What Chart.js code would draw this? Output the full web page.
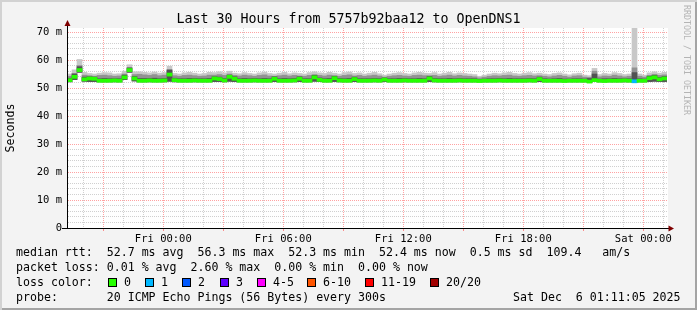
<!DOCTYPE html>
<html>
<head>
<meta charset="utf-8">
<script src="https://cdn.jsdelivr.net/npm/chart.js@4.4.1/dist/chart.umd.min.js"></script>
<style>
  body { margin: 0; background: #fff; }
  #marco {
    position: relative; width: 697px; height: 310px; overflow: hidden;
    background: #f3f3f3;
    box-shadow: inset 2px 2px 0 #d2d2d2, inset -2px -2px 0 #a4a4a4;
    font-family: 'DejaVu Sans Mono', monospace; color: #000;
  }
  #grafica { position: absolute; left: 0; top: 0; }
  #titulo { position: absolute; left: 0; top: 10px; width: 697px; text-align: center; font-size: 13.3px; line-height: 18px; white-space: pre; }
  #marca { position: absolute; left: 682px; top: 5px; writing-mode: vertical-rl; font-size: 8.3px; color: #b4b4b4; white-space: pre; }
  .fila { position: absolute; left: 16px; font-size: 11.6px; line-height: 15px; white-space: pre; }
  .caja { position: absolute; width: 7px; height: 7px; border: 1px solid #000; }
  .etq { position: absolute; font-size: 11.6px; line-height: 15px; white-space: pre; }
</style>
</head>
<body>
<div id="marco">
  <canvas id="grafica" width="697" height="310"></canvas>
  <div id="titulo">Last 30 Hours from 5757b92baa12 to OpenDNS1</div>
  <div id="marca">RRDTOOL / TOBI OETIKER</div>
  <div class="fila" style="top:245px">median rtt:  52.7 ms avg  56.3 ms max  52.3 ms min  52.4 ms now  0.5 ms sd  109.4   am/s</div>
  <div class="fila" style="top:260px">packet loss: 0.01 % avg  2.60 % max  0.00 % min  0.00 % now</div>
  <div class="fila" style="top:275px">loss color:</div>
  <div id="leyendaPerdida"></div>
  <div class="fila" style="top:290px">probe:       20 ICMP Echo Pings (56 Bytes) every 300s</div>
  <div class="etq" style="top:290px; left:513px">Sat Dec  6 01:11:05 2025</div>
</div>
<script>
// tiempo en horas respecto a Fri 00:00, cubetas de 15 minutos
const inicioHoras = -4.815;
const finHoras = 25.185;
const pasoHoras = 0.25;

// mediana del rtt (ms) por cubeta
const mediana = [
  52.8, 54.0, 56.4, 53.1, 53.4, 53.3, 52.6, 52.6, 52.6, 52.7,
  52.6, 53.8, 56.4, 53.4, 52.6, 52.6, 52.7, 52.6, 52.6, 52.7,
  54.8, 52.8, 52.6, 52.6, 52.6, 52.7, 52.6, 52.6, 52.6, 53.4,
  53.2, 52.7, 54.0, 53.3, 52.6, 52.6, 52.6, 52.7, 52.6, 52.6,
  52.6, 53.3, 52.6, 52.6, 52.6, 52.7, 53.3, 52.6, 52.6, 53.8,
  52.9, 52.6, 52.6, 53.5, 52.7, 52.6, 52.6, 53.2, 52.6, 52.6,
  52.6, 52.7, 52.6, 53.0, 52.6, 52.6, 52.6, 52.7, 52.6, 52.6,
  52.6, 52.6, 53.4, 52.7, 52.6, 52.6, 52.6, 52.6, 52.7, 52.6,
  52.6, 52.6, 52.5, 52.6, 52.6, 52.6, 52.7, 52.6, 52.6, 52.6,
  52.6, 52.6, 52.7, 52.6, 53.2, 52.6, 52.6, 52.6, 52.6, 52.5,
  52.6, 52.6, 52.6, 52.6, 52.3, 52.8, 52.6, 52.5, 52.6, 52.6,
  52.6, 52.7, 52.6, 52.4, 52.6, 52.6, 53.5, 53.8, 53.1, 53.4
];

// ping mas rapido de cada cubeta (base del humo)
const humoMin = [
  52.2, 53.0, 55.6, 52.4, 52.3, 52.3, 52.2, 52.2, 52.2, 52.2,
  52.2, 53.0, 55.6, 52.5, 52.2, 52.2, 52.2, 52.2, 52.2, 52.2,
  52.4, 52.2, 52.2, 52.2, 52.2, 52.2, 52.2, 52.2, 52.2, 52.3,
  52.3, 52.2, 52.4, 52.3, 52.2, 52.2, 52.2, 52.2, 52.2, 52.2,
  52.2, 52.3, 52.2, 52.2, 52.2, 52.2, 52.3, 52.2, 52.2, 52.4,
  52.3, 52.2, 52.2, 52.3, 52.2, 52.2, 52.2, 52.3, 52.2, 52.2,
  52.2, 52.2, 52.2, 52.3, 52.2, 52.2, 52.2, 52.2, 52.2, 52.2,
  52.2, 52.2, 52.3, 52.2, 52.2, 52.2, 52.2, 52.2, 52.2, 52.2,
  52.2, 52.2, 52.2, 52.2, 52.2, 52.2, 52.2, 52.2, 52.2, 52.2,
  52.2, 52.2, 52.2, 52.2, 52.3, 52.2, 52.2, 52.2, 52.2, 52.2,
  52.2, 52.2, 52.2, 52.2, 52.0, 52.3, 52.2, 52.2, 52.2, 52.2,
  52.2, 52.2, 52.2, 52.0, 52.2, 52.2, 52.3, 52.4, 52.3, 52.3
];

// limite de la franja oscura del humo
const humoOscuro = [
  53.5, 55.0, 57.6, 53.9, 54.0, 53.9, 53.3, 53.4, 53.3, 53.3,
  53.3, 54.6, 57.2, 54.1, 53.4, 53.4, 53.4, 53.5, 53.3, 53.4,
  56.4, 53.5, 53.3, 53.3, 53.4, 53.4, 53.3, 53.3, 53.4, 54.0,
  53.9, 53.4, 54.6, 54.0, 53.3, 53.4, 53.3, 53.4, 53.3, 53.4,
  53.3, 54.0, 53.3, 53.4, 53.3, 53.4, 54.0, 53.3, 53.3, 54.5,
  53.6, 53.3, 53.4, 54.2, 53.4, 53.3, 53.4, 53.9, 53.3, 53.3,
  53.3, 53.4, 53.3, 53.6, 53.3, 53.3, 53.4, 53.4, 53.3, 53.3,
  53.4, 53.3, 54.1, 53.4, 53.3, 53.3, 53.4, 53.3, 53.4, 53.3,
  53.3, 53.3, 53.1, 53.2, 53.3, 53.3, 53.4, 53.3, 53.4, 53.3,
  53.3, 53.3, 53.4, 53.3, 53.9, 53.3, 53.2, 53.3, 53.4, 53.2,
  53.2, 53.3, 53.3, 53.2, 53.4, 55.0, 53.2, 53.3, 53.3, 53.4,
  53.3, 53.3, 53.3, 55.5, 53.3, 53.2, 54.2, 54.5, 53.8, 54.1
];

// limite de la franja media del humo
const humoMedio = [
  54.2, 55.2, 58.0, 54.6, 54.4, 54.2, 54.5, 54.6, 54.4, 54.2,
  54.3, 55.0, 57.2, 54.8, 54.9, 54.7, 54.5, 54.8, 54.4, 54.6,
  56.6, 54.4, 54.2, 54.5, 54.6, 54.4, 54.2, 54.3, 54.6, 54.6,
  54.8, 54.5, 55.0, 54.5, 54.3, 54.6, 54.4, 54.2, 54.5, 54.7,
  54.3, 54.2, 54.4, 54.6, 54.3, 54.5, 54.3, 54.2, 54.5, 54.8,
  54.5, 54.3, 54.6, 54.4, 54.2, 54.5, 54.7, 54.3, 54.5, 54.2,
  54.4, 54.6, 54.3, 53.9, 54.2, 54.4, 54.5, 54.3, 54.2, 54.5,
  54.6, 54.4, 54.4, 54.5, 54.2, 54.4, 54.6, 54.3, 54.5, 54.3,
  54.2, 54.0, 53.6, 53.9, 54.2, 54.4, 54.3, 54.5, 54.6, 54.3,
  54.2, 54.4, 54.5, 54.3, 54.4, 54.2, 54.0, 54.3, 54.5, 54.2,
  53.9, 54.3, 54.4, 53.9, 53.8, 56.0, 54.0, 54.3, 54.2, 54.6,
  54.3, 54.0, 54.2, 57.2, 54.2, 53.9, 54.5, 54.9, 54.5, 54.7
];

// ping mas lento de cada cubeta (borde del humo claro)
const humoMax = [
  55.0, 56.5, 60.2, 55.6, 55.2, 55.0, 55.3, 55.5, 55.4, 55.0,
  55.1, 56.0, 58.3, 55.8, 55.8, 55.6, 55.4, 55.7, 55.3, 55.5,
  57.8, 55.2, 55.0, 55.4, 55.6, 55.3, 55.0, 55.2, 55.6, 55.5,
  55.8, 55.4, 56.0, 55.3, 55.1, 55.5, 55.2, 55.0, 55.4, 55.7,
  55.2, 55.0, 55.3, 55.6, 55.1, 55.4, 55.2, 55.0, 55.5, 55.8,
  55.4, 55.2, 55.6, 55.3, 55.0, 55.5, 55.7, 55.2, 55.4, 55.0,
  55.3, 55.6, 55.1, 54.6, 55.0, 55.3, 55.5, 55.2, 55.0, 55.4,
  55.6, 55.3, 55.2, 55.5, 55.0, 55.3, 55.6, 55.1, 55.4, 55.2,
  55.0, 54.8, 54.2, 54.6, 55.0, 55.3, 55.1, 55.4, 55.6, 55.2,
  55.0, 55.3, 55.5, 55.1, 55.3, 55.0, 54.8, 55.2, 55.4, 55.0,
  54.7, 55.1, 55.3, 54.6, 54.4, 57.0, 54.8, 55.2, 55.0, 55.5,
  55.2, 54.8, 55.0, 71.4, 55.0, 54.6, 55.4, 55.8, 55.3, 55.6
];

// pings perdidos (de 20) por cubeta
const perdida = [
  0, 0, 0, 0, 0, 0, 0, 0, 0, 0, 0, 0, 0, 0, 0, 0, 0, 0, 0, 0,
  0, 0, 0, 0, 0, 0, 0, 0, 0, 0, 0, 0, 0, 0, 0, 0, 0, 0, 0, 0,
  0, 0, 0, 0, 0, 0, 0, 0, 0, 0, 0, 0, 0, 0, 0, 0, 0, 0, 0, 0,
  0, 0, 0, 0, 0, 0, 0, 0, 0, 0, 0, 0, 0, 0, 0, 0, 0, 0, 0, 0,
  0, 0, 0, 0, 0, 0, 0, 0, 0, 0, 0, 0, 0, 0, 0, 0, 0, 0, 0, 0,
  0, 0, 0, 0, 0, 0, 0, 0, 0, 0, 0, 0, 0, 1, 0, 0, 0, 0, 0, 0
];

// leyenda de colores de perdida
const etiquetasPerdida = ['0', '1', '2', '3', '4-5', '6-10', '11-19', '20/20'];
const umbralesPerdida = [0, 1, 2, 3, 5, 10, 19, 20];
const coloresPerdida = ['#26ff00', '#00b8ff', '#0059ff', '#5e00ff', '#ff00ff', '#ff5500', '#ff0000', '#a10000'];
const cajasPerdidaX = [108, 145, 182, 220, 257, 307, 365, 430];

// etiquetas de ejes
const horasMarcadas = [0, 6, 12, 18, 24];
const textosHoras = ['Fri 00:00', 'Fri 06:00', 'Fri 12:00', 'Fri 18:00', 'Sat 00:00'];
const valoresY = [0, 10, 20, 30, 40, 50, 60, 70];
const textosY = ['0', '10 m', '20 m', '30 m', '40 m', '50 m', '60 m', '70 m'];

const fuente = "'DejaVu Sans Mono', monospace";
Chart.defaults.font.family = fuente;

// LEYENDA DE PERDIDA EN EL DOM
const leyendaPerdida = document.getElementById('leyendaPerdida');
etiquetasPerdida.forEach((texto, i) => {
  leyendaPerdida.innerHTML += `<div class="caja" style="left:${cajasPerdidaX[i]}px; top:278px; background:${coloresPerdida[i]}"></div>`
    + `<div class="etq" style="left:${cajasPerdidaX[i] + 16}px; top:275px">${texto}</div>`;
});

const colorPerdida = (n) => {
  const k = umbralesPerdida.findIndex((u) => n <= u);
  return coloresPerdida[k < 0 ? coloresPerdida.length - 1 : k];
};

const tiempos = mediana.map((_, i) => inicioHoras + (i + 0.5) * pasoHoras);

// fondo blanco del area y flechas de los ejes
const decoracionEjes = {
  id: 'decoracionEjes',
  beforeDraw(chart) {
    const { ctx, chartArea: a } = chart;
    ctx.save();
    ctx.fillStyle = '#ffffff';
    ctx.fillRect(a.left, a.top, a.right - a.left + 1, a.bottom - a.top);
    ctx.restore();
  },
  afterDraw(chart) {
    const { ctx, chartArea: a } = chart;
    const yb = Math.round(a.bottom) + 0.5;
    const xl = Math.round(a.left) + 0.5;
    ctx.save();
    ctx.strokeStyle = '#000';
    ctx.lineWidth = 1;
    ctx.beginPath();
    ctx.moveTo(a.left - 5, yb);
    ctx.lineTo(a.right + 3, yb);
    ctx.moveTo(xl, a.bottom);
    ctx.lineTo(xl, a.top - 4);
    ctx.stroke();
    ctx.fillStyle = '#7f0000';
    ctx.beginPath();
    ctx.moveTo(xl, a.top - 8);
    ctx.lineTo(xl - 3, a.top - 2);
    ctx.lineTo(xl + 3, a.top - 2);
    ctx.closePath();
    ctx.fill();
    ctx.beginPath();
    ctx.moveTo(a.right + 7, yb);
    ctx.lineTo(a.right + 1.5, yb - 3);
    ctx.lineTo(a.right + 1.5, yb + 3);
    ctx.closePath();
    ctx.fill();
    ctx.restore();
  }
};

const barraComun = { grouped: false, barPercentage: 1, categoryPercentage: 1, borderWidth: 0 };

const capaHumo = (label, order, alto, color) => ({
  ...barraComun,
  label,
  order,
  data: humoMin.map((b, i) => ({ x: tiempos[i], y: [b, alto[i]] })),
  backgroundColor: color
});

const config = {
  type: 'bar',
  data: {
    datasets: [
      {
        ...barraComun,
        label: 'mediana',
        order: 0,
        data: mediana.map((m, i) => ({ x: tiempos[i], y: [m - 0.55, m + 0.55] })),
        backgroundColor: perdida.map(colorPerdida)
      },
      capaHumo('humo oscuro', 1, humoOscuro, '#525252'),
      capaHumo('humo medio', 2, humoMedio, '#929292'),
      capaHumo('humo claro', 3, humoMax, '#c8c8c8')
    ]
  },
  options: {
    responsive: false,
    animation: false,
    devicePixelRatio: 1,
    layout: { padding: { top: 28, right: 30, left: 0, bottom: 0 } },
    plugins: { legend: { display: false }, tooltip: { enabled: false } },
    scales: {
      x: {
        type: 'linear',
        min: inicioHoras,
        max: finHoras,
        offset: false,
        afterBuildTicks: (s) => {
          const t = [];
          for (let h = Math.ceil(inicioHoras); h <= Math.floor(finHoras); h++) t.push({ value: h });
          s.ticks = t;
        },
        afterFit: (s) => { s.height = 82; },
        ticks: {
          autoSkip: false,
          maxRotation: 0,
          padding: 2,
          color: '#000',
          font: { size: 10.5 },
          callback: (v) => {
            const k = horasMarcadas.indexOf(v);
            return k >= 0 ? textosHoras[k] : '';
          }
        },
        grid: {
          offset: false,
          drawTicks: true,
          tickLength: 3,
          color: (c) => (c.tick && c.tick.value % 3 === 0 ? 'rgba(255,70,70,0.5)' : 'rgba(150,150,150,0.45)'),
          tickColor: (c) => (c.tick && c.tick.value % 3 === 0 ? 'rgba(255,70,70,0.6)' : 'rgba(0,0,0,0)')
        },
        border: { display: true, color: '#000', dash: [1, 1] }
      },
      y: {
        min: 0,
        max: 200 / 2.8,
        afterBuildTicks: (s) => {
          const t = [];
          for (let v = 0; v <= 70; v += 2) t.push({ value: v });
          s.ticks = t;
        },
        afterFit: (s) => { s.width = 67; },
        ticks: {
          autoSkip: false,
          padding: 5,
          color: '#000',
          font: { size: 10.5 },
          callback: (v) => {
            const k = valoresY.indexOf(v);
            return k >= 0 ? textosY[k] : '';
          }
        },
        grid: {
          drawTicks: false,
          color: (c) => (c.tick && c.tick.value % 10 === 0 ? 'rgba(255,70,70,0.5)' : 'rgba(150,150,150,0.45)')
        },
        border: { display: true, color: '#000', dash: [1, 1] },
        title: {
          display: true,
          text: 'Seconds',
          color: '#000',
          font: { size: 11.6 },
          padding: { top: 4, bottom: 0 }
        }
      }
    }
  },
  plugins: [decoracionEjes]
};

new Chart(document.getElementById('grafica'), config);
</script>
</body>
</html>
